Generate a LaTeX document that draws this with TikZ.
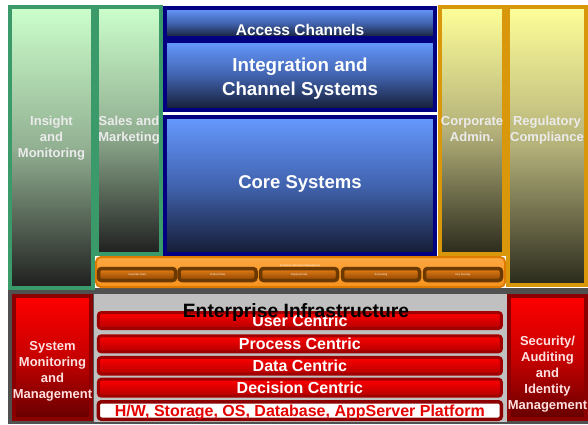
\documentclass[tikz,border=0pt]{standalone}
\usepackage{fontspec}
\setmainfont{Liberation Sans}
\usepackage{xcolor}
\usetikzlibrary{positioning,calc}

\definecolor{pillargreen}{HTML}{3A9A6A}
\definecolor{mint}{HTML}{CCFFCC}
\definecolor{sage}{HTML}{92B092}
\definecolor{navyedge}{HTML}{000080}
\definecolor{sky}{HTML}{6699FF}
\definecolor{dusk}{HTML}{4163AE}
\definecolor{midnight}{HTML}{141B33}
\definecolor{goldedge}{HTML}{D9980C}
\definecolor{cream}{HTML}{FFFF99}
\definecolor{khaki}{HTML}{B4B17A}
\definecolor{soot}{HTML}{2A2A1C}
\definecolor{busorange}{HTML}{F7931E}
\definecolor{buslight}{HTML}{FBA640}
\definecolor{busedge}{HTML}{DE7A00}
\definecolor{cocoa}{HTML}{6B3800}
\definecolor{ember}{HTML}{E5801A}
\definecolor{rust}{HTML}{8C4300}
\definecolor{oxblood}{HTML}{8B0000}
\definecolor{barred}{HTML}{A00000}
\definecolor{slate}{HTML}{505050}
\definecolor{infragrey}{HTML}{C0C0C0}

\begin{document}
\begin{tikzpicture}[x=1pt,y=-1pt,
    pillar/.style={line width=3.6pt,inner sep=0pt},
    greenpillar/.style={pillar,draw=pillargreen,top color=mint,bottom color=black!88,middle color=sage},
    goldpillar/.style={pillar,draw=goldedge,top color=cream,bottom color=soot,middle color=khaki},
    pillartext/.style={font=\fontsize{13}{16}\selectfont\bfseries,text=white!92!black,
      align=center,inner sep=0pt,anchor=north},
    bluebox/.style={draw=navyedge,line width=4pt,top color=sky,bottom color=midnight,middle color=dusk,
      minimum width=270pt,inner sep=0pt},
    bluetext/.style={text=white,align=center,inner sep=0pt},
    redpillar/.style={draw=oxblood,line width=4pt,top color=red,bottom color=red!40!black,
      middle color=red!78!black,minimum width=77pt,minimum height=123pt,inner sep=0pt},
    redtext/.style={font=\fontsize{13}{16}\selectfont\bfseries,text=white!88!red,
      align=center,inner sep=0pt,anchor=north},
    module/.style={draw=cocoa,line width=3.5pt,rounded corners=3pt,top color=ember,bottom color=rust,
      minimum width=77pt,minimum height=12pt,inner sep=0pt,text=white,font=\fontsize{2.6}{3}\selectfont},
    barbase/.style={line width=3pt,rounded corners=3pt,minimum width=403pt,inner sep=0pt,
      font=\fontsize{16}{19}\selectfont\bfseries,text height=11.5pt,text depth=0pt},
    tierbar/.style={barbase,draw=barred,top color=red,bottom color=red!70!black,text=white},
    platbar/.style={barbase,line width=3.5pt,draw=oxblood,fill=white,text=red!90!black}
  ]
    \useasboundingbox (0,0) rectangle (588,424);
    \fill[white] (0,0) rectangle (588,424);

    \fill[slate] (8,288) rectangle (588,424);
    \fill[infragrey] (94,293.5) rectangle (507,421.5);

    \node[greenpillar,minimum width=83.4pt,minimum height=281.4pt] (insight) at (51.5,147.5) {};
    \node[greenpillar,minimum width=64.4pt,minimum height=247.4pt] (sales) at (129,130.5) {};
    \node[goldpillar,minimum width=64.4pt,minimum height=247.4pt] (corporate) at (472,130.5) {};
    \node[goldpillar,minimum width=78.4pt,minimum height=278.4pt] (regulatory) at (547,146) {};

    \node[pillartext] at (insight |- 0,116) {Insight\\and\\Monitoring};
    \node[pillartext] at (sales |- 0,116) {Sales and\\Marketing};
    \node[pillartext] at (corporate |- 0,116) {Corporate\\Admin.};
    \node[pillartext] at (regulatory |- 0,116) {Regulatory\\Compliance};

    \node[bluebox,minimum height=30pt] (access) at (300,23) {};
    \node[bluebox,minimum height=69pt] (integration) at (300,75.5) {};
    \node[bluebox,minimum height=137pt] (core) at (300,185.5) {};

    \node[bluetext,font=\fontsize{15.5}{18}\selectfont\bfseries,text height=11pt,text depth=0pt]
      at ([yshift=-6.5pt]access.center) {Access Channels};
    \node[bluetext,font=\fontsize{18.7}{24}\selectfont\bfseries]
      at ([yshift=-3pt]integration.center) {Integration and\\Channel Systems};
    \node[bluetext,font=\fontsize{18.5}{22}\selectfont\bfseries,text height=13.3pt,text depth=0pt]
      at ([yshift=3.5pt]core.center) {Core Systems};

    \node[draw=busedge,line width=2pt,rounded corners=5pt,top color=buslight,bottom color=busorange,
      minimum width=409pt,minimum height=30pt,inner sep=0pt] (infobus) at (300.5,272) {};
    \node[font=\fontsize{2.5}{3}\selectfont,text=white,inner sep=0pt] (busname) at (300,265.5)
      {Enterprise Information Management};
    \foreach \m/\x/\t in {1/137/Customer Data,2/217.5/Product Data,3/299/Payment Data,
                          4/381/Accounting,5/463/Key Security} {
      \node[module] (mod\m) at (\x,274.5) {\t};
    }

    \node[redpillar] (sysmon) at (52.5,357.5) {};
    \node[redpillar] (security) at (547.5,357.5) {};
    \node[redtext] at (sysmon |- 0,341) {System\\Monitoring\\and\\Management};
    \node[redtext] at (security |- 0,336) {Security/\\Auditing\\and\\Identity\\Management};

    \foreach \b/\y/\h/\t in {user/320.5/16/User Centric,process/343.8/16/Process Centric,
                             data/365.8/16.7/Data Centric,decision/387.7/17/Decision Centric} {
      \node[tierbar,minimum height=\h pt] (\b) at (299.85,\y) {\t};
    }
    \node[platbar,minimum height=17.5pt] (platform) at (299.85,410.5)
      {H/W, Storage, OS, Database, AppServer Platform};

    \node[font=\fontsize{19.3}{22}\selectfont\bfseries,inner sep=0pt,text height=13.8pt,text depth=0pt]
      (infratitle) at (296,310.3) {Enterprise Infrastructure};
\end{tikzpicture}
\end{document}
